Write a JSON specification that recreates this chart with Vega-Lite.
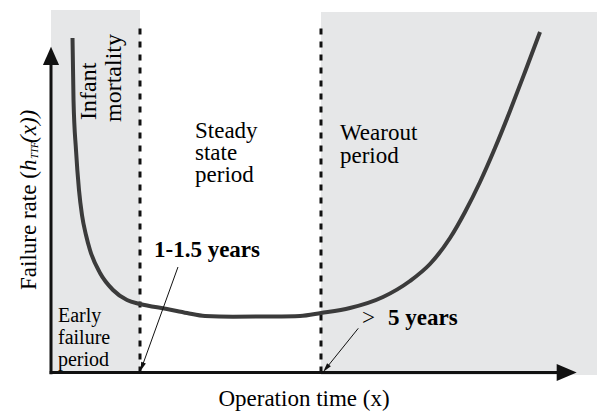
{
  "$schema": "https://vega.github.io/schema/vega-lite/v6.json",
  "width": 601,
  "height": 413,
  "padding": 0,
  "autosize": {"type": "none"},
  "background": "white",
  "config": {"view": {"stroke": null}, "font": "Liberation Serif"},
  "layer": [
    {
      "data": {"values": [
        {"x": 0, "x2": 16.92, "y": 0, "y2": 111.37},
        {"x": 51.33, "x2": 103.8, "y": -0.77, "y2": 110.75}
      ]},
      "mark": {"type": "rect", "color": "#e6e7e8"},
      "encoding": {
        "x": {"field": "x", "type": "quantitative", "scale": {"domain": [-9.696, 104.563], "nice": false, "zero": false}, "axis": null},
        "x2": {"field": "x2"},
        "y": {"field": "y", "type": "quantitative", "scale": {"domain": [-12.442, 114.439], "nice": false, "zero": false}, "axis": null},
        "y2": {"field": "y2"}
      }
    },
    {
      "data": {"values": [
        {"x": 16.92, "y": 0, "y2": 107.4},
        {"x": 51.33, "y": 0, "y2": 107.4}
      ]},
      "mark": {"type": "rule", "color": "#111111", "strokeWidth": 3, "strokeDash": [6, 7]},
      "encoding": {
        "x": {"field": "x", "type": "quantitative", "scale": {"domain": [-9.696, 104.563], "nice": false, "zero": false}, "axis": null},
        "y": {"field": "y", "type": "quantitative", "scale": {"domain": [-12.442, 114.439], "nice": false, "zero": false}, "axis": null},
        "y2": {"field": "y2"}
      }
    },
    {
      "data": {"values": [
        {"t": 4.09, "rate": 102.76},
        {"t": 4.28, "rate": 83.72},
        {"t": 4.75, "rate": 68.36},
        {"t": 5.32, "rate": 56.07},
        {"t": 5.89, "rate": 48.39},
        {"t": 6.65, "rate": 42.24},
        {"t": 7.41, "rate": 37.63},
        {"t": 9.32, "rate": 30.57},
        {"t": 11.79, "rate": 25.35},
        {"t": 14.45, "rate": 22.27},
        {"t": 16.92, "rate": 21.04},
        {"t": 22.05, "rate": 19.51},
        {"t": 25.86, "rate": 18.28},
        {"t": 29.28, "rate": 17.36},
        {"t": 34.6, "rate": 17.14},
        {"t": 41.63, "rate": 17.2},
        {"t": 47.34, "rate": 17.36},
        {"t": 51.33, "rate": 18.28},
        {"t": 56.84, "rate": 19.82},
        {"t": 63.12, "rate": 23.2},
        {"t": 68.25, "rate": 28.11},
        {"t": 72.05, "rate": 33.33},
        {"t": 75.86, "rate": 41.32},
        {"t": 78.71, "rate": 49.31},
        {"t": 81.56, "rate": 58.53},
        {"t": 84.41, "rate": 68.97},
        {"t": 87.26, "rate": 80.34},
        {"t": 90.11, "rate": 92.32},
        {"t": 92.97, "rate": 104.61}
      ]},
      "mark": {"type": "line", "color": "#3b3b3b", "strokeWidth": 4, "interpolate": "monotone"},
      "encoding": {
        "x": {"field": "t", "type": "quantitative", "scale": {"domain": [-9.696, 104.563], "nice": false, "zero": false}, "axis": null},
        "y": {"field": "rate", "type": "quantitative", "scale": {"domain": [-12.442, 114.439], "nice": false, "zero": false}, "axis": null}
      }
    },
    {
      "data": {"values": [
        {"x": 0, "y": -0.5, "x2": 0, "y2": 94.5},
        {"x": -0.25, "y": 0, "x2": 96.3, "y2": 0}
      ]},
      "mark": {"type": "rule", "color": "#111111", "strokeWidth": 3},
      "encoding": {
        "x": {"field": "x", "type": "quantitative", "scale": {"domain": [-9.696, 104.563], "nice": false, "zero": false}, "axis": null},
        "x2": {"field": "x2"},
        "y": {"field": "y", "type": "quantitative", "scale": {"domain": [-12.442, 114.439], "nice": false, "zero": false}, "axis": null},
        "y2": {"field": "y2"}
      }
    },
    {
      "data": {"values": [{"x": 0, "y": 97.28}]},
      "mark": {"type": "point", "shape": "M0,-1L-0.88,1L0.88,1Z", "size": 335, "filled": true, "color": "#111111", "opacity": 1},
      "encoding": {
        "x": {"field": "x", "type": "quantitative", "scale": {"domain": [-9.696, 104.563], "nice": false, "zero": false}, "axis": null},
        "y": {"field": "y", "type": "quantitative", "scale": {"domain": [-12.442, 114.439], "nice": false, "zero": false}, "axis": null}
      }
    },
    {
      "data": {"values": [{"x": 98.04, "y": 0}]},
      "mark": {"type": "point", "shape": "M1,0L-1,-0.84L-1,0.84Z", "size": 400, "filled": true, "color": "#111111", "opacity": 1},
      "encoding": {
        "x": {"field": "x", "type": "quantitative", "scale": {"domain": [-9.696, 104.563], "nice": false, "zero": false}, "axis": null},
        "y": {"field": "y", "type": "quantitative", "scale": {"domain": [-12.442, 114.439], "nice": false, "zero": false}, "axis": null}
      }
    },
    {
      "data": {"values": [
        {"x": 24.14, "y": 32.41, "x2": 17.3, "y2": 1.76},
        {"x": 58.42, "y": 13.58, "x2": 52.31, "y2": 1.32}
      ]},
      "mark": {"type": "rule", "color": "#111111", "strokeWidth": 1},
      "encoding": {
        "x": {"field": "x", "type": "quantitative", "scale": {"domain": [-9.696, 104.563], "nice": false, "zero": false}, "axis": null},
        "x2": {"field": "x2"},
        "y": {"field": "y", "type": "quantitative", "scale": {"domain": [-12.442, 114.439], "nice": false, "zero": false}, "axis": null},
        "y2": {"field": "y2"}
      }
    },
    {
      "data": {"values": [{"x": 17.3, "y": 1.76}]},
      "mark": {"type": "point", "shape": "M0,-1L-0.55,1L0.55,1Z", "size": 81, "angle": 200, "filled": true, "color": "#111111", "opacity": 1},
      "encoding": {
        "x": {"field": "x", "type": "quantitative", "scale": {"domain": [-9.696, 104.563], "nice": false, "zero": false}, "axis": null},
        "y": {"field": "y", "type": "quantitative", "scale": {"domain": [-12.442, 114.439], "nice": false, "zero": false}, "axis": null}
      }
    },
    {
      "data": {"values": [{"x": 52.31, "y": 1.32}]},
      "mark": {"type": "point", "shape": "M0,-1L-0.55,1L0.55,1Z", "size": 81, "angle": 219, "filled": true, "color": "#111111", "opacity": 1},
      "encoding": {
        "x": {"field": "x", "type": "quantitative", "scale": {"domain": [-9.696, 104.563], "nice": false, "zero": false}, "axis": null},
        "y": {"field": "y", "type": "quantitative", "scale": {"domain": [-12.442, 114.439], "nice": false, "zero": false}, "axis": null}
      }
    },
    {
      "data": {"values": [
        {"label": "Steady", "x": 27.38, "y": 72.04},
        {"label": "state", "x": 27.38, "y": 65.28},
        {"label": "period", "x": 27.38, "y": 58.52},
        {"label": "Wearout", "x": 54.94, "y": 71.43},
        {"label": "period", "x": 54.94, "y": 64.44},
        {"label": ">", "x": 59.13, "y": 14.59}
      ]},
      "mark": {"type": "text", "font": "Liberation Serif", "fontSize": 23, "align": "left", "baseline": "alphabetic", "color": "#000000"},
      "encoding": {
        "x": {"field": "x", "type": "quantitative", "scale": {"domain": [-9.696, 104.563], "nice": false, "zero": false}, "axis": null},
        "y": {"field": "y", "type": "quantitative", "scale": {"domain": [-12.442, 114.439], "nice": false, "zero": false}, "axis": null},
        "text": {"field": "label"}
      }
    },
    {
      "data": {"values": [
        {"label": "Early", "x": 1.33, "y": 15.51},
        {"label": "failure", "x": 1.33, "y": 8.76},
        {"label": "period", "x": 1.33, "y": 2.15}
      ]},
      "mark": {"type": "text", "font": "Liberation Serif", "fontSize": 20, "align": "left", "baseline": "alphabetic", "color": "#000000"},
      "encoding": {
        "x": {"field": "x", "type": "quantitative", "scale": {"domain": [-9.696, 104.563], "nice": false, "zero": false}, "axis": null},
        "y": {"field": "y", "type": "quantitative", "scale": {"domain": [-12.442, 114.439], "nice": false, "zero": false}, "axis": null},
        "text": {"field": "label"}
      }
    },
    {
      "data": {"values": [
        {"label": "1-1.5 years", "x": 19.58, "y": 35.39},
        {"label": "5 years", "x": 64.07, "y": 14.59}
      ]},
      "mark": {"type": "text", "font": "Liberation Serif", "fontSize": 23, "fontWeight": "bold", "align": "left", "baseline": "alphabetic", "color": "#000000"},
      "encoding": {
        "x": {"field": "x", "type": "quantitative", "scale": {"domain": [-9.696, 104.563], "nice": false, "zero": false}, "axis": null},
        "y": {"field": "y", "type": "quantitative", "scale": {"domain": [-12.442, 114.439], "nice": false, "zero": false}, "axis": null},
        "text": {"field": "label"}
      }
    },
    {
      "data": {"values": [
        {"label": "Infant", "x": 8.56, "y": 77.57},
        {"label": "mortality", "x": 13.31, "y": 76.96}
      ]},
      "mark": {"type": "text", "font": "Liberation Serif", "fontSize": 24, "angle": 270, "align": "left", "baseline": "alphabetic", "color": "#000000"},
      "encoding": {
        "x": {"field": "x", "type": "quantitative", "scale": {"domain": [-9.696, 104.563], "nice": false, "zero": false}, "axis": null},
        "y": {"field": "y", "type": "quantitative", "scale": {"domain": [-12.442, 114.439], "nice": false, "zero": false}, "axis": null},
        "text": {"field": "label"}
      }
    },
    {
      "data": {"values": [{"label": "Failure rate (", "x": -2.76, "y": 25.35}]},
      "mark": {"type": "text", "font": "Liberation Serif", "fontSize": 23, "angle": 270, "align": "left", "baseline": "alphabetic", "color": "#000000"},
      "encoding": {
        "x": {"field": "x", "type": "quantitative", "scale": {"domain": [-9.696, 104.563], "nice": false, "zero": false}, "axis": null},
        "y": {"field": "y", "type": "quantitative", "scale": {"domain": [-12.442, 114.439], "nice": false, "zero": false}, "axis": null},
        "text": {"field": "label"}
      }
    },
    {
      "data": {"values": [
        {"label": "h", "x": -2.76, "y": 61.9},
        {"label": "(x))", "x": -2.76, "y": 70.51}
      ]},
      "mark": {"type": "text", "font": "Liberation Serif", "fontSize": 23, "fontStyle": "italic", "angle": 270, "align": "left", "baseline": "alphabetic", "color": "#000000"},
      "encoding": {
        "x": {"field": "x", "type": "quantitative", "scale": {"domain": [-9.696, 104.563], "nice": false, "zero": false}, "axis": null},
        "y": {"field": "y", "type": "quantitative", "scale": {"domain": [-12.442, 114.439], "nice": false, "zero": false}, "axis": null},
        "text": {"field": "label"}
      }
    },
    {
      "data": {"values": [{"label": "TTF", "x": -2.38, "y": 65.59}]},
      "mark": {"type": "text", "font": "Liberation Serif", "fontSize": 10, "fontStyle": "italic", "angle": 270, "align": "left", "baseline": "alphabetic", "color": "#000000"},
      "encoding": {
        "x": {"field": "x", "type": "quantitative", "scale": {"domain": [-9.696, 104.563], "nice": false, "zero": false}, "axis": null},
        "y": {"field": "y", "type": "quantitative", "scale": {"domain": [-12.442, 114.439], "nice": false, "zero": false}, "axis": null},
        "text": {"field": "label"}
      }
    },
    {
      "data": {"values": [{"label": "Operation time (x)", "x": 48.1, "y": -10.29}]},
      "mark": {"type": "text", "font": "Liberation Serif", "fontSize": 23, "align": "center", "baseline": "alphabetic", "color": "#000000"},
      "encoding": {
        "x": {"field": "x", "type": "quantitative", "scale": {"domain": [-9.696, 104.563], "nice": false, "zero": false}, "axis": null},
        "y": {"field": "y", "type": "quantitative", "scale": {"domain": [-12.442, 114.439], "nice": false, "zero": false}, "axis": null},
        "text": {"field": "label"}
      }
    }
  ]
}
